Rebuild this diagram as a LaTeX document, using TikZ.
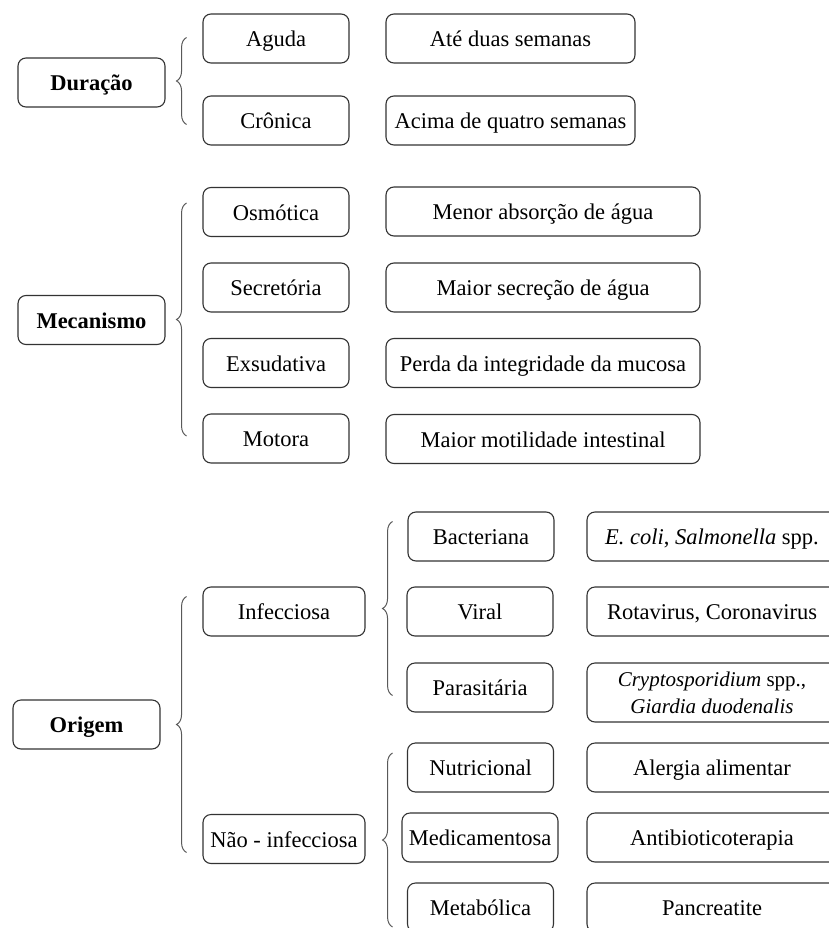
\documentclass[tikz,border=0pt]{standalone}
\usepackage{fontspec}
\setmainfont{Liberation Serif}
\usetikzlibrary{decorations.pathreplacing}

\begin{document}
\begin{tikzpicture}[x=1pt,y=-1pt,
  box/.style={draw=black!80,line width=1.1pt,rounded corners=8pt,inner sep=2pt,
    minimum height=49pt,text height=19pt,text depth=3pt,
    font=\fontsize{22.5}{27}\selectfont},
  head/.style={box,font=\fontsize{22.5}{27}\selectfont\bfseries},
  bracket/.style={draw=black!65,line width=1pt,decorate,decoration={brace,amplitude=10pt}}]
\clip (0,0) rectangle (829,928);

% Duracao
\node[head,minimum width=147pt] (dur) at (91.5,82.5) {Duração};
\node[box,minimum width=146pt] (aguda) at (276,38.5) {Aguda};
\node[box,minimum width=146pt] (cronica) at (276,120.5) {Crônica};
\node[box,minimum width=249pt] (ate) at (510.5,38.5) {Até duas semanas};
\node[box,minimum width=249pt] (acima) at (510.5,120.5) {Acima de quatro semanas};
\draw[bracket] ([shift={(21,42)}]dur.east) -- ([shift={(21,-45)}]dur.east);

% Mecanismo
\node[head,minimum width=147pt] (mec) at (91.5,320) {Mecanismo};
\node[box,minimum width=146pt] (osm) at (276,212) {Osmótica};
\node[box,minimum width=146pt] (sec) at (276,287.5) {Secretória};
\node[box,minimum width=146pt] (exs) at (276,363) {Exsudativa};
\node[box,minimum width=146pt] (mot) at (276,438.5) {Motora};
\node[box,minimum width=314pt] (menor) at (543,211.5) {Menor absorção de água};
\node[box,minimum width=314pt] (maiorsec) at (543,287.5) {Maior secreção de água};
\node[box,minimum width=314pt] (perda) at (543,363) {Perda da integridade da mucosa};
\node[box,minimum width=314pt] (maiormot) at (543,439) {Maior motilidade intestinal};
\draw[bracket] ([shift={(21,116)}]mec.east) -- ([shift={(21,-117)}]mec.east);

% Origem
\node[head,minimum width=147pt] (ori) at (86.5,724.5) {Origem};
\node[box,minimum width=162pt] (inf) at (284,611.5) {Infecciosa};
\node[box,minimum width=162pt] (naoinf) at (284,839) {Não - infecciosa};
\draw[bracket] ([shift={(26,128)}]ori.east) -- ([shift={(26,-128)}]ori.east);

\node[box,minimum width=146pt] (bac) at (481,536.5) {Bacteriana};
\node[box,minimum width=146pt] (vir) at (480,611.5) {Viral};
\node[box,minimum width=146pt] (par) at (480,687.5) {Parasitária};
\node[box,minimum width=250pt] (ecoli) at (712,536.5) {\textit{E. coli}, \textit{Salmonella} spp.};
\node[box,minimum width=250pt] (rota) at (712,611.5) {Rotavirus, Coronavirus};
\node[box,minimum width=250pt,minimum height=59pt,align=center,
  text height={},text depth={},
  font=\fontsize{21}{27}\selectfont] (crypto) at (712,692.5)
  {\textit{Cryptosporidium} spp.,\\ \textit{Giardia duodenalis}};
\draw[bracket] ([shift={(27,84)}]inf.east) -- ([shift={(27,-90)}]inf.east);

\node[box,minimum width=146pt] (nut) at (480.5,767.5) {Nutricional};
\node[box,minimum width=156pt] (med) at (480,837.5) {Medicamentosa};
\node[box,minimum width=146pt] (met) at (480.5,907.5) {Metabólica};
\node[box,minimum width=250pt] (alergia) at (712,767.5) {Alergia alimentar};
\node[box,minimum width=250pt] (antib) at (712,837.5) {Antibioticoterapia};
\node[box,minimum width=250pt] (panc) at (712,907.5) {Pancreatite};
\draw[bracket] ([shift={(27,88)}]naoinf.east) -- ([shift={(27,-86)}]naoinf.east);
\end{tikzpicture}
\end{document}
